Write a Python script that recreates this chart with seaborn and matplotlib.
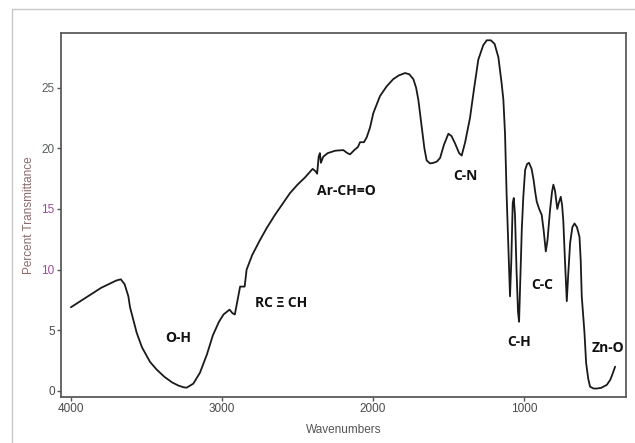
import numpy as np
import pandas as pd
import matplotlib
matplotlib.use("Agg")
import matplotlib.pyplot as plt
from matplotlib.lines import Line2D
import seaborn as sns

# ---- data ----
wavenumber = [4000, 3950, 3900, 3850, 3800, 3750, 3700, 3670, 3645, 3620, 3609, 3590, 3565,
              3530, 3477, 3432, 3380, 3330, 3290, 3255, 3234, 3190, 3146, 3100, 3060, 3020, 2990,
              2950, 2930, 2915, 2895, 2880, 2850, 2837, 2800, 2750, 2705, 2650, 2600,
              2550, 2500, 2450, 2400, 2380, 2370, 2360, 2352, 2345, 2330, 2300, 2250,
              2197, 2170, 2152, 2120, 2100, 2086, 2060, 2042, 2020, 1998, 1954, 1910,
              1866, 1830, 1788, 1760, 1733, 1715, 1700, 1690, 1678, 1660, 1645, 1623,
              1600, 1578, 1556, 1530, 1501, 1480, 1457, 1430, 1413, 1390, 1358, 1330,
              1303, 1270, 1247, 1220, 1195, 1170, 1148, 1137, 1126, 1115, 1104, 1093,
              1085, 1075, 1068, 1060, 1050, 1040, 1033, 1025, 1015, 1005, 993, 980,
              967, 950, 937, 925, 916, 900, 883, 870, 856, 845, 828, 815, 806, 795,
              780, 770, 757, 748, 740, 730, 717, 708, 695, 680, 666, 650, 633, 625,
              618, 600, 589, 575, 563, 540, 518, 490, 452, 430, 420, 397]
transmittance = [6.9, 7.3, 7.7, 8.1, 8.5, 8.8, 9.1, 9.2, 8.8, 7.8, 6.9, 6.0, 4.8,
                 3.6, 2.4, 1.75, 1.15, 0.7, 0.45, 0.3, 0.27, 0.6, 1.5, 3.0, 4.6, 5.7, 6.3,
                 6.7, 6.4, 6.3, 7.6, 8.6, 8.6, 10.0, 11.2, 12.4, 13.4, 14.5, 15.4,
                 16.3, 17.0, 17.6, 18.3, 18.1, 17.9, 19.3, 19.6, 18.8, 19.3, 19.6, 19.8,
                 19.85, 19.6, 19.5, 19.9, 20.1, 20.5, 20.5, 20.9, 21.7, 22.9, 24.3, 25.1,
                 25.7, 26.0, 26.2, 26.1, 25.7, 25.0, 24.0, 23.0, 21.8, 20.0, 19.0, 18.75,
                 18.8, 18.9, 19.2, 20.3, 21.2, 21.0, 20.4, 19.6, 19.4, 20.5, 22.5, 25.0,
                 27.3, 28.5, 28.9, 28.9, 28.6, 27.5, 25.3, 24.0, 21.2, 16.0, 11.9, 7.8,
                 10.5, 15.5, 15.9, 14.5, 10.0, 6.5, 5.7, 9.0, 13.3, 16.0, 18.2, 18.7,
                 18.8, 18.3, 17.4, 16.3, 15.6, 15.0, 14.5, 13.2, 11.5, 12.4, 14.9, 16.4, 17.0, 16.5,
                 15.0, 15.5, 16.0, 15.3, 14.0, 11.0, 7.4, 9.5, 12.2, 13.5, 13.8, 13.5, 12.7, 10.8,
                 7.8, 4.8, 2.3, 1.0, 0.35, 0.2, 0.2, 0.25, 0.5, 0.9, 1.2, 2.0]

band_labels = ["O-H", "RC \u039e CH", "Ar-CH=O", "C-N", "C-H", "C-C", "Zn-O"]
band_x = [3291, 2609, 2179, 1391, 1033, 881, 444]
band_y = [4.37, 7.25, 16.5, 17.7, 4.0, 8.7, 3.5]

x_ticks = [4000, 3000, 2000, 1000]
y_ticks = [0, 5, 10, 15, 20, 25]
y_tick_colors = ["#4a4a4a", "#4a4a4a", "#9a4a94", "#9a4a94", "#55605a", "#55605a"]

df = pd.DataFrame({"Wavenumbers": wavenumber, "Percent Transmittance": transmittance})

sns.set_style("white")
fig = plt.figure(figsize=(6.35, 4.43), dpi=100)
ax = fig.add_axes([61 / 635, 1 - 397 / 443, (626 - 61) / 635, (397 - 33) / 443])

sns.lineplot(data=df, x="Wavenumbers", y="Percent Transmittance", ax=ax,
             color="#1a1a1a", linewidth=1.3, estimator=None, sort=False)

ax.set_xlim(4066, 325)
ax.set_ylim(-0.5, 29.5)
ax.set_xticks(x_ticks)
ax.set_yticks(y_ticks)
ax.tick_params(axis="both", which="both", direction="out", length=3, width=1,
               color="#555555", labelsize=8.5, pad=1.5, bottom=True, left=True)
for lab in ax.get_xticklabels():
    lab.set_fontfamily("Liberation Sans")
    lab.set_color("#4a4a4a")
for lab, c in zip(ax.get_yticklabels(), y_tick_colors):
    lab.set_fontfamily("Liberation Sans")
    lab.set_color(c)

ax.set_xlabel("Wavenumbers", fontsize=8.5, color="#555555", family="Liberation Sans", labelpad=6)
ax.set_ylabel("Percent Transmittance", fontsize=8.5, color="#8a6a6a", family="Liberation Sans", labelpad=5)

for s in ax.spines.values():
    s.set_visible(True)
    s.set_color("#5a5a5a")
    s.set_linewidth(1.3)

for t, bx, by in zip(band_labels, band_x, band_y):
    ax.text(bx, by, t, ha="center", va="center", fontsize=10, fontweight="bold",
            family=["Open Sans", "DejaVu Sans"], color="#111111")

# light grey outer frame of the source image
fig.add_artist(Line2D([12 / 635, 1.0], [1 - 9 / 443, 1 - 9 / 443], transform=fig.transFigure,
                      color="#c8c8c8", linewidth=1))
fig.add_artist(Line2D([12 / 635, 12 / 635], [0, 1 - 9 / 443], transform=fig.transFigure,
                      color="#c8c8c8", linewidth=1))

fig.savefig("out.png", dpi=100)
